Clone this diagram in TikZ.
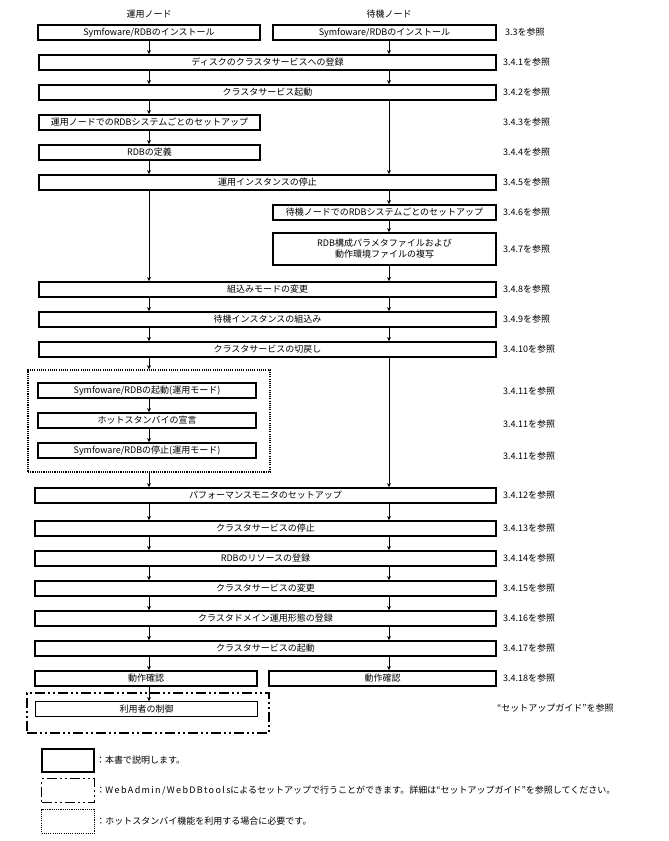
\documentclass[tikz,border=0pt]{standalone}
\usepackage{fontspec}
\setmainfont{Noto Sans CJK JP}
\usepackage{tikz}
\usetikzlibrary{positioning,arrows.meta}
\tikzset{basic/.style={draw,line width=1.8pt,inner sep=0pt,minimum height=15pt,font=\fontsize{9}{11}\selectfont,align=center}}
\tikzset{thinbox/.style={basic,line width=0.8pt}}
\tikzset{ref/.style={anchor=west,inner sep=0pt,font=\fontsize{9}{11}\selectfont}}
\tikzset{header/.style={inner sep=0pt,font=\fontsize{9}{11}\selectfont}}
\tikzset{arr/.style={draw,line width=0.7pt,-{Stealth[length=4pt,width=4pt]}}}
\tikzset{dotframe/.style={draw,line width=1.5pt,dash pattern=on 1.1pt off 1.1pt,inner sep=0pt}}
\tikzset{dashdotframe/.style={draw,line width=1.5pt,dash pattern=on 10pt off 3pt on 2pt off 3pt on 2pt off 3pt,inner sep=0pt}}

\begin{document}
\begin{tikzpicture}[x=1pt,y=-1pt]
        \useasboundingbox (0,0) rectangle (669,841);
        \coordinate (L) at (149,0);
        \coordinate (R) at (389,0);
        \node[header] (active) at (149,14) {運用ノード};
        \node[header] (standby) at (389,14) {待機ノード};
        \node[basic,minimum width=222pt] (instA) at (149,32.5) {Symfoware/RDBのインストール};
        \node[basic,minimum width=223pt] (instS) at (384.5,32.5) {Symfoware/RDBのインストール};
        \node[ref] at (505,32.5) {3.3を参照};
        \node[basic,minimum width=457pt] (disk) at (267.5,62.5) {ディスクのクラスタサービスへの登録};
        \node[ref] at (503,62.5) {3.4.1を参照};
        \node[basic,minimum width=457pt] (start) at (267.5,92.5) {クラスタサービス起動};
        \node[ref] at (503,92.5) {3.4.2を参照};
        \node[basic,minimum width=221pt] (setupA) at (149.5,122.5) {運用ノードでのRDBシステムごとのセットアップ};
        \node[ref] at (503,122.5) {3.4.3を参照};
        \node[basic,minimum width=221pt] (define) at (149.5,152.5) {RDBの定義};
        \node[ref] at (503,152.5) {3.4.4を参照};
        \node[basic,minimum width=457pt] (stopA) at (267.5,182.5) {運用インスタンスの停止};
        \node[ref] at (503,182.5) {3.4.5を参照};
        \node[basic,minimum width=223pt] (setupS) at (384.5,212.5) {待機ノードでのRDBシステムごとのセットアップ};
        \node[ref] at (503,212.5) {3.4.6を参照};
        \node[basic,minimum width=223pt,minimum height=32pt] (copy) at (384.5,249) {RDB構成パラメタファイルおよび\\動作環境ファイルの複写};
        \node[ref] at (503,249) {3.4.7を参照};
        \node[basic,minimum width=457pt] (mode) at (267.5,289.5) {組込みモードの変更};
        \node[ref] at (503,289.5) {3.4.8を参照};
        \node[basic,minimum width=457pt] (join) at (267.5,319.5) {待機インスタンスの組込み};
        \node[ref] at (503,319.5) {3.4.9を参照};
        \node[basic,minimum width=457pt] (back) at (267.5,349.5) {クラスタサービスの切戻し};
        \node[ref] at (503,349.5) {3.4.10を参照};
        \node[dotframe,minimum width=242pt,minimum height=102pt] (hot) at (149,421) {};
        \node[basic,minimum width=218pt] (rdbup) at (147,390.5) {Symfoware/RDBの起動(運用モード)};
        \node[ref] at (503,391) {3.4.11を参照};
        \node[basic,minimum width=218pt] (declare) at (147,420.5) {ホットスタンバイの宣言};
        \node[ref] at (503,424) {3.4.11を参照};
        \node[basic,minimum width=218pt] (rdbdown) at (147,450.5) {Symfoware/RDBの停止(運用モード)};
        \node[ref] at (503,456) {3.4.11を参照};
        \node[basic,minimum width=461pt] (perf) at (265.5,495.5) {パフォーマンスモニタのセットアップ};
        \node[ref] at (503,495.5) {3.4.12を参照};
        \node[basic,minimum width=461pt] (cstop) at (265.5,528.5) {クラスタサービスの停止};
        \node[ref] at (503,528.5) {3.4.13を参照};
        \node[basic,minimum width=461pt] (resource) at (265.5,558.5) {RDBのリソースの登録};
        \node[ref] at (503,558.5) {3.4.14を参照};
        \node[basic,minimum width=461pt] (change) at (265.5,588.5) {クラスタサービスの変更};
        \node[ref] at (503,588.5) {3.4.15を参照};
        \node[basic,minimum width=461pt] (domain) at (265.5,618.5) {クラスタドメイン運用形態の登録};
        \node[ref] at (503,618.5) {3.4.16を参照};
        \node[basic,minimum width=461pt] (cstart) at (265.5,648.5) {クラスタサービスの起動};
        \node[ref] at (503,648.5) {3.4.17を参照};
        \node[basic,minimum width=222pt] (checkA) at (146,678.5) {動作確認};
        \node[basic,minimum width=227pt] (checkS) at (382.5,678.5) {動作確認};
        \node[ref] at (503,678.5) {3.4.18を参照};
        \node[dashdotframe,minimum width=242pt,minimum height=40pt] (web) at (148,713) {};
        \node[thinbox,minimum width=222pt] (user) at (146.5,709) {利用者の制御};
        \node[ref] at (497,708) {“セットアップガイド”を参照};
        \node[basic,minimum width=52pt,minimum height=23pt] (keybook) at (68,760.5) {};
        \node[ref,right=1pt of keybook] {：本書で説明します。};
        \node[dashdotframe,minimum width=53pt,minimum height=24pt] (keyweb) at (68,790.5) {};
        \node[ref,right=1pt of keyweb] {：{\addfontfeatures{LetterSpace=15}WebAdmin/WebDBtools}によるセットアップで行うことができます。詳細は“セットアップガイド”を参照してください。};
        \node[dotframe,minimum width=53pt,minimum height=24pt] (keyhot) at (68,821.5) {};
        \node[ref,right=1pt of keyhot] {：ホットスタンバイ機能を利用する場合に必要です。};
            \path[arr] (instA.south -| L) -- (disk.north -| L);
            \path[arr] (instS.south -| R) -- (disk.north -| R);
            \path[arr] (disk.south -| L) -- (start.north -| L);
            \path[arr] (disk.south -| R) -- (start.north -| R);
            \path[arr] (start.south -| L) -- (setupA.north -| L);
            \path[arr] (start.south -| R) -- (stopA.north -| R);
            \path[arr] (setupA.south -| L) -- (define.north -| L);
            \path[arr] (define.south -| L) -- (stopA.north -| L);
            \path[arr] (stopA.south -| L) -- (mode.north -| L);
            \path[arr] (stopA.south -| R) -- (setupS.north -| R);
            \path[arr] (setupS.south -| R) -- (copy.north -| R);
            \path[arr] (copy.south -| R) -- (mode.north -| R);
            \path[arr] (mode.south -| L) -- (join.north -| L);
            \path[arr] (mode.south -| R) -- (join.north -| R);
            \path[arr] (join.south -| L) -- (back.north -| L);
            \path[arr] (join.south -| R) -- (back.north -| R);
            \path[arr] (back.south -| L) -- (hot.north -| L);
            \path[arr] (back.south -| R) -- (perf.north -| R);
            \path[arr] (rdbup.south -| L) -- (declare.north -| L);
            \path[arr] (declare.south -| L) -- (rdbdown.north -| L);
            \path[arr] (hot.south -| L) -- (perf.north -| L);
            \path[arr] (perf.south -| L) -- (cstop.north -| L);
            \path[arr] (perf.south -| R) -- (cstop.north -| R);
            \path[arr] (cstop.south -| L) -- (resource.north -| L);
            \path[arr] (cstop.south -| R) -- (resource.north -| R);
            \path[arr] (resource.south -| L) -- (change.north -| L);
            \path[arr] (resource.south -| R) -- (change.north -| R);
            \path[arr] (change.south -| L) -- (domain.north -| L);
            \path[arr] (change.south -| R) -- (domain.north -| R);
            \path[arr] (domain.south -| L) -- (cstart.north -| L);
            \path[arr] (domain.south -| R) -- (cstart.north -| R);
            \path[arr] (cstart.south -| L) -- (checkA.north -| L);
            \path[arr] (cstart.south -| R) -- (checkS.north -| R);
            \path[arr] (checkA.south -| L) -- (user.north -| L);
\end{tikzpicture}
\end{document}
